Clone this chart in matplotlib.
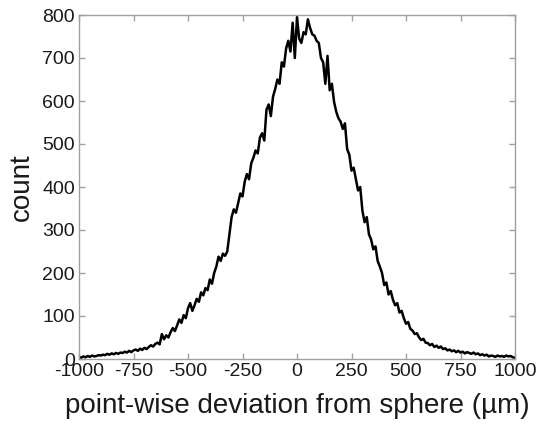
import numpy as np
import matplotlib
matplotlib.use("Agg")
import matplotlib.pyplot as plt

plt.rcParams["font.family"] = ["Liberation Sans", "DejaVu Sans"]
plt.rcParams["axes.unicode_minus"] = False

# bin centres (um) and counts, 10 um spacing
bin_centres = np.arange(-1000, 1001, 10)
counts = [
    5, 3, 6, 4, 7, 5, 8, 6, 7, 9,
    8, 10, 9, 12, 10, 13, 11, 14, 12, 15,
    14, 17, 15, 19, 16, 20, 22, 19, 24, 21,
    26, 23, 28, 32, 29, 35, 38, 34, 58, 46,
    55, 50, 62, 72, 65, 78, 92, 84, 102, 95,
    118, 130, 112, 125, 140, 133, 155, 148, 165, 160,
    185, 175, 200, 215, 238, 228, 245, 240, 250, 290,
    330, 348, 340, 362, 385, 378, 412, 430, 418, 455,
    468, 485, 478, 515, 525, 508, 580, 592, 565, 610,
    628, 650, 640, 690, 680, 722, 740, 715, 782, 700,
    795, 745, 735, 760, 755, 790, 770, 755, 752, 740,
    735, 700, 690, 640, 705, 625, 640, 598, 575, 560,
    552, 535, 548, 488, 475, 438, 445, 418, 392, 400,
    345, 318, 330, 290, 278, 255, 262, 228, 215, 200,
    172, 178, 150, 158, 138, 125, 130, 108, 112, 95,
    82, 86, 70, 66, 58, 60, 50, 44, 47, 38,
    37, 32, 35, 28, 31, 26, 29, 23, 25, 20,
    22, 18, 20, 16, 19, 15, 17, 13, 16, 14,
    12, 15, 11, 13, 9, 11, 8, 10, 6, 8,
    7, 5, 8, 6, 7, 5, 8, 6, 7, 4,
    3,
]
xticks = [-1000, -750, -500, -250, 0, 250, 500, 750, 1000]
yticks = [0, 100, 200, 300, 400, 500, 600, 700, 800]

fig = plt.figure(figsize=(5.36, 4.26), dpi=100)
ax = fig.add_axes([79 / 536, 1 - 359 / 426, 436 / 536, 344 / 426])
ax.plot(bin_centres, counts, color="black", lw=1.8)

ax.set_xlim(-1000, 1000)
ax.set_ylim(0, 800)
ax.set_xticks(xticks)
ax.set_yticks(yticks)
for s in ax.spines.values():
    s.set_color("#a0a0a0")
    s.set_linewidth(1.0)
ax.tick_params(direction="in", top=True, right=True, length=4, width=1.0,
               color="#a0a0a0", labelsize=14, labelcolor="#1a1a1a", pad=3)

ax.set_xlabel("point-wise deviation from sphere (\u00b5m)", fontsize=20,
              color="#1a1a1a", labelpad=9)
ax.set_ylabel("count", fontsize=20, color="#1a1a1a", labelpad=5)

fig.savefig("out.png", dpi=100)
